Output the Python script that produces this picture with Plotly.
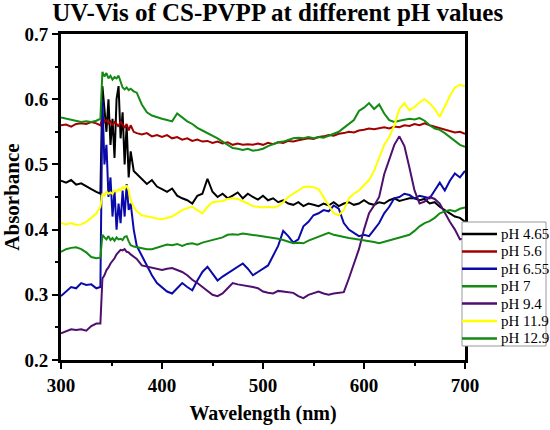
import plotly.graph_objects as go

# wavelength grid (nm), finer around the 340 nm jump
wavelength = [300, 305, 310, 315, 320, 325, 330, 335, 339,
              341, 343, 345, 347, 349, 351, 353, 355, 357, 359, 361, 363, 365, 367, 369,
              372, 375, 380, 385, 390, 395, 400, 405, 410, 415, 420, 425, 430, 435, 440,
              445, 450, 455, 460, 465, 470, 475, 480, 485, 490, 495, 500, 505, 510, 515,
              520, 525, 530, 535, 540, 545, 550, 555, 560, 565, 570, 575, 580, 585, 590,
              595, 600, 605, 610, 615, 620, 625, 630, 635, 640, 645, 650, 655, 660, 665,
              670, 675, 680, 685, 690, 695, 700]

ph_465 = [0.475, 0.472, 0.476, 0.469, 0.471, 0.466, 0.462, 0.458, 0.455,
          0.620, 0.580, 0.550, 0.600, 0.530, 0.570, 0.510, 0.600, 0.620, 0.540, 0.580, 0.500, 0.560, 0.480, 0.520,
          0.490, 0.485, 0.478, 0.470, 0.476, 0.466, 0.462, 0.458, 0.463, 0.452, 0.448, 0.445, 0.440, 0.452, 0.455,
          0.478, 0.458, 0.450, 0.455, 0.448, 0.452, 0.457, 0.448, 0.455, 0.450, 0.446, 0.452, 0.445, 0.448, 0.442,
          0.445, 0.440, 0.438, 0.442, 0.436, 0.440, 0.438, 0.436, 0.440, 0.437, 0.442, 0.436, 0.440, 0.442, 0.438,
          0.440, 0.445, 0.440, 0.438, 0.442, 0.440, 0.445, 0.448, 0.444, 0.446, 0.448, 0.448, 0.445, 0.447, 0.440,
          0.442, 0.435, 0.430, 0.425, 0.420, 0.418, 0.412]

ph_56 = [0.560, 0.561, 0.558, 0.562, 0.563, 0.562, 0.565, 0.563, 0.560,
         0.572, 0.565, 0.568, 0.563, 0.566, 0.560, 0.565, 0.562, 0.558, 0.566, 0.560, 0.556, 0.562, 0.552, 0.560,
         0.550, 0.548, 0.546, 0.548, 0.543, 0.545, 0.542, 0.545, 0.540, 0.542, 0.538, 0.540, 0.536, 0.538, 0.535,
         0.536, 0.533, 0.535, 0.532, 0.534, 0.530, 0.532, 0.530, 0.531, 0.530, 0.532, 0.530, 0.533, 0.531, 0.534,
         0.533, 0.536, 0.535, 0.537, 0.538, 0.540, 0.539, 0.542, 0.543, 0.545, 0.544, 0.547, 0.548, 0.550, 0.549,
         0.552, 0.553, 0.555, 0.554, 0.556, 0.557, 0.555, 0.558, 0.557, 0.560, 0.559, 0.562, 0.560, 0.563, 0.560,
         0.558, 0.556, 0.553, 0.552, 0.549, 0.550, 0.547]

ph_655 = [0.298, 0.305, 0.312, 0.310, 0.318, 0.315, 0.316, 0.310, 0.312,
          0.600, 0.500, 0.530, 0.450, 0.480, 0.420, 0.460, 0.400, 0.440, 0.410, 0.460, 0.420, 0.470, 0.430, 0.440,
          0.400, 0.375, 0.360, 0.345, 0.330, 0.318, 0.312, 0.305, 0.302, 0.310, 0.318, 0.312, 0.307, 0.322, 0.335,
          0.343, 0.332, 0.322, 0.328, 0.333, 0.338, 0.343, 0.348, 0.340, 0.330, 0.335, 0.340, 0.345, 0.360, 0.375,
          0.398, 0.390, 0.380, 0.385, 0.405, 0.412, 0.422, 0.425, 0.430, 0.428, 0.437, 0.432, 0.410, 0.400, 0.395,
          0.390, 0.392, 0.390, 0.400, 0.410, 0.425, 0.435, 0.448, 0.450, 0.455, 0.453, 0.448, 0.452, 0.450, 0.448,
          0.460, 0.472, 0.460, 0.475, 0.486, 0.480, 0.490]

ph_7 = [0.572, 0.570, 0.568, 0.566, 0.565, 0.566, 0.565, 0.567, 0.570,
        0.642, 0.635, 0.640, 0.632, 0.636, 0.630, 0.634, 0.632, 0.636, 0.625, 0.618, 0.615, 0.618, 0.614, 0.616,
        0.612, 0.610, 0.592, 0.580, 0.575, 0.572, 0.570, 0.568, 0.566, 0.578, 0.572, 0.566, 0.562, 0.556, 0.552,
        0.548, 0.545, 0.540, 0.535, 0.530, 0.525, 0.524, 0.522, 0.524, 0.521, 0.522, 0.524, 0.528, 0.531, 0.534,
        0.535, 0.538, 0.540, 0.541, 0.540, 0.542, 0.540, 0.542, 0.541, 0.544, 0.547, 0.550, 0.556, 0.562, 0.568,
        0.582, 0.587, 0.594, 0.585, 0.592, 0.578, 0.568, 0.565, 0.567, 0.568, 0.570, 0.569, 0.571, 0.567, 0.560,
        0.555, 0.553, 0.548, 0.542, 0.535, 0.530, 0.527]

ph_94 = [0.241, 0.244, 0.247, 0.246, 0.247, 0.245, 0.252, 0.256, 0.256,
         0.325, 0.330, 0.338, 0.342, 0.348, 0.352, 0.356, 0.362, 0.366, 0.369, 0.368, 0.370, 0.366, 0.365, 0.362,
         0.359, 0.355, 0.345, 0.343, 0.342, 0.339, 0.338, 0.340, 0.341, 0.338, 0.335, 0.330, 0.323, 0.318, 0.312,
         0.305, 0.300, 0.298, 0.302, 0.310, 0.318, 0.316, 0.315, 0.313, 0.312, 0.310, 0.305, 0.303, 0.302, 0.306,
         0.305, 0.304, 0.303, 0.298, 0.295, 0.300, 0.303, 0.305, 0.302, 0.300, 0.302, 0.303, 0.304, 0.325, 0.348,
         0.370, 0.400, 0.425, 0.437, 0.450, 0.485, 0.508, 0.530, 0.543, 0.528, 0.495, 0.460, 0.440, 0.443, 0.450,
         0.447, 0.440, 0.425, 0.412, 0.400, 0.385, 0.387]

ph_119 = [0.410, 0.408, 0.410, 0.407, 0.408, 0.412, 0.418, 0.425, 0.435,
          0.455, 0.452, 0.458, 0.455, 0.457, 0.455, 0.460, 0.458, 0.462, 0.460, 0.465, 0.463, 0.468, 0.460, 0.445,
          0.435, 0.428, 0.422, 0.420, 0.418, 0.417, 0.416, 0.418, 0.420, 0.425, 0.430, 0.433, 0.435, 0.430, 0.425,
          0.435, 0.442, 0.443, 0.444, 0.447, 0.448, 0.447, 0.444, 0.440, 0.436, 0.435, 0.434, 0.435, 0.434, 0.436,
          0.442, 0.450, 0.455, 0.460, 0.465, 0.466, 0.465, 0.462, 0.450, 0.438, 0.425, 0.422, 0.430, 0.448, 0.455,
          0.460, 0.468, 0.476, 0.490, 0.510, 0.530, 0.542, 0.560, 0.585, 0.594, 0.583, 0.588, 0.595, 0.600, 0.594,
          0.585, 0.573, 0.590, 0.605, 0.618, 0.622, 0.620]

ph_129 = [0.366, 0.370, 0.372, 0.373, 0.370, 0.365, 0.358, 0.356, 0.357,
          0.392, 0.388, 0.385, 0.390, 0.384, 0.387, 0.383, 0.388, 0.385, 0.386, 0.384, 0.389, 0.390, 0.382, 0.376,
          0.374, 0.373, 0.372, 0.370, 0.370, 0.372, 0.375, 0.377, 0.376, 0.378, 0.375, 0.378, 0.379, 0.377, 0.380,
          0.382, 0.384, 0.386, 0.388, 0.392, 0.393, 0.392, 0.394, 0.393, 0.392, 0.390, 0.390, 0.388, 0.387, 0.386,
          0.384, 0.381, 0.379, 0.380, 0.379, 0.383, 0.386, 0.390, 0.393, 0.395, 0.392, 0.390, 0.388, 0.387, 0.386,
          0.385, 0.384, 0.383, 0.381, 0.379, 0.381, 0.383, 0.385, 0.388, 0.389, 0.392, 0.398, 0.405, 0.410, 0.413,
          0.418, 0.425, 0.428, 0.430, 0.428, 0.432, 0.434]

series = [
    ("pH 4.65", ph_465, "#000000"),
    ("pH 5.6", ph_56, "#a00000"),
    ("pH 6.55", ph_655, "#0a0aaa"),
    ("pH 7", ph_7, "#138a13"),
    ("pH 9.4", ph_94, "#4e0f6e"),
    ("pH 11.9", ph_119, "#ffff00"),
    ("pH 12.9", ph_129, "#138a13"),
]

SERIF = "Liberation Serif"
W, H = 550, 430
L, R, T, B = 61, 85, 34, 70
pw, ph = W - L - R, H - T - B


def px_x(p):
    return (p - L) / pw


def px_y(p):
    return 1 - (p - T) / ph


fig = go.Figure()
for name, vals, color in series:
    fig.add_trace(go.Scatter(x=wavelength, y=vals, mode="lines", name=name,
                             line=dict(color=color, width=2)))

# Origin-style legend box (plotly's own legend rows are too tall for this)
fig.add_shape(type="rect", xref="paper", yref="paper",
              x0=px_x(462), x1=px_x(546), y0=px_y(222), y1=px_y(346),
              line=dict(color="#999999", width=1), fillcolor="white", layer="above")
for i, (name, vals, color) in enumerate(series):
    yc = px_y(234 + i * 17.4)
    fig.add_shape(type="line", xref="paper", yref="paper",
                  x0=px_x(462), x1=px_x(497), y0=yc, y1=yc,
                  line=dict(color=color, width=2.5), layer="above")
    fig.add_annotation(xref="paper", yref="paper", x=px_x(499), y=yc,
                       text=name, showarrow=False, xanchor="left", yanchor="middle",
                       font=dict(family=SERIF, size=15, color="black"))

axis_style = dict(
    showline=True, linecolor="black", linewidth=3, mirror=True,
    ticks="outside", ticklen=6, tickwidth=2, tickcolor="black",
    showgrid=False, zeroline=False, automargin=False,
    tickfont=dict(family=SERIF, size=19, color="black", weight="bold"),
)

fig.update_xaxes(range=[300, 700], dtick=100,
                 title=dict(text="Wavelength (nm)", standoff=12,
                            font=dict(family=SERIF, size=20, color="black", weight="bold")),
                 minor=dict(ticks="outside", ticklen=3, tickwidth=2, dtick=50, tickcolor="black"),
                 **axis_style)
fig.update_yaxes(range=[0.2, 0.7], dtick=0.1, tickformat=".1f",
                 title=dict(text="Absorbance", standoff=0,
                            font=dict(family=SERIF, size=21, color="black", weight="bold")),
                 minor=dict(ticks="outside", ticklen=3, tickwidth=2, dtick=0.05, tickcolor="black"),
                 **axis_style)

fig.update_layout(
    width=W, height=H,
    margin=dict(l=L, r=R, t=T, b=B),
    paper_bgcolor="white", plot_bgcolor="white",
    title=dict(text="UV-Vis of CS-PVPP at different pH values",
               x=0.505, xref="container", xanchor="center",
               y=0.972, yref="container", yanchor="middle",
               font=dict(family=SERIF, size=25, color="black", weight="bold")),
    showlegend=False,
)

# page body has a default 8px margin; drop it so the 550x430 figure fills the window
fig.write_html("out.html", config={"displayModeBar": False},
               post_script="document.body.style.margin = '0px';")
